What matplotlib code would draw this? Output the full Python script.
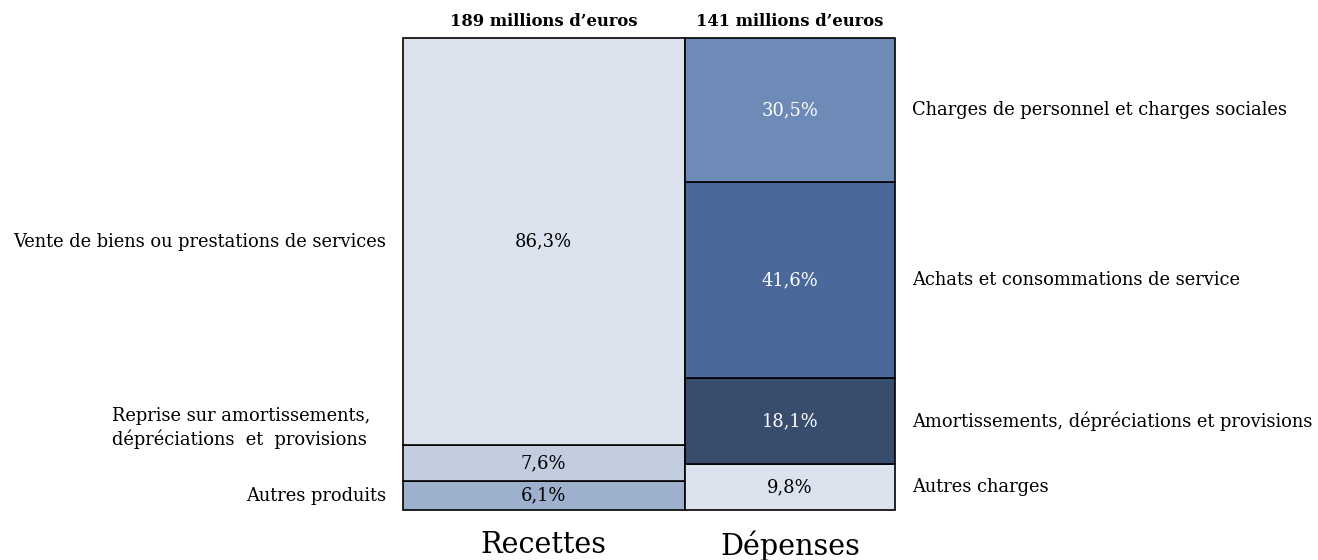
import matplotlib.pyplot as plt
from matplotlib.patches import Rectangle

# ---- data ----
totals = [189, 141]
col_names = ["Recettes", "Dépenses"]
headers = ["189 millions d’euros", "141 millions d’euros"]

rec_labels = ["Autres produits",
              "Reprise sur amortissements,\ndépréciations  et  provisions",
              "Vente de biens ou prestations de services"]
rec_values = [6.1, 7.6, 86.3]
rec_pct = ["6,1%", "7,6%", "86,3%"]

dep_labels = ["Autres charges",
              "Amortissements, dépréciations et provisions",
              "Achats et consommations de service",
              "Charges de personnel et charges sociales"]
dep_values = [9.8, 18.1, 41.6, 30.5]
dep_pct = ["9,8%", "18,1%", "41,6%", "30,5%"]

rec_colors = ["#9DB0CE", "#C2CDDF", "#DCE3EE"]
dep_colors = ["#DCE3EE", "#384D6E", "#4A6899", "#6E8BB8"]
rec_txt = ["black", "black", "black"]
dep_txt = ["black", "white", "white", "white"]

FONT = "DejaVu Serif"
FS = 12.9

fig = plt.figure(figsize=(13.18, 5.6), dpi=100)
ax = fig.add_axes([402.7 / 1318, 1 - 510 / 560, 492.3 / 1318, 472 / 560])
ax.set_xlim(0, sum(totals))
ax.set_ylim(0, 100)
ax.axis("off")

lw = 1.2
x0 = 0
cols = [(rec_values, rec_colors, rec_pct, rec_txt, rec_labels),
        (dep_values, dep_colors, dep_pct, dep_txt, dep_labels)]
for i, (vals, colors, pcts, tcols, labs) in enumerate(cols):
    w = totals[i]
    bottom = 0
    for j, v in enumerate(vals):
        ax.add_patch(Rectangle((x0, bottom), w, v, facecolor=colors[j],
                               edgecolor="black", linewidth=lw, clip_on=False))
        cy = bottom + v / 2
        ax.text(x0 + w / 2, cy, pcts[j], ha="center", va="center",
                color=tcols[j], fontsize=FS, family=FONT)
        if i == 0:
            if "\n" in labs[j]:
                ax.text(-21.5, cy + 7.5, labs[j], ha="right", va="center",
                        fontsize=FS, family=FONT, linespacing=1.25,
                        multialignment="left")
            else:
                ax.text(-11.2, cy, labs[j], ha="right", va="center",
                        fontsize=FS, family=FONT)
        else:
            ax.text(sum(totals) + 11.4, cy, labs[j], ha="left", va="center",
                    fontsize=FS, family=FONT)
        bottom += v
    ax.text(x0 + w / 2, 103.4, headers[i], ha="center", va="center",
            fontsize=11.8, fontweight="bold", family=FONT)
    ax.text(x0 + w / 2, -7.5, col_names[i], ha="center", va="center",
            fontsize=20.6, family=FONT)
    x0 += w

fig.savefig("out.png", dpi=100)
